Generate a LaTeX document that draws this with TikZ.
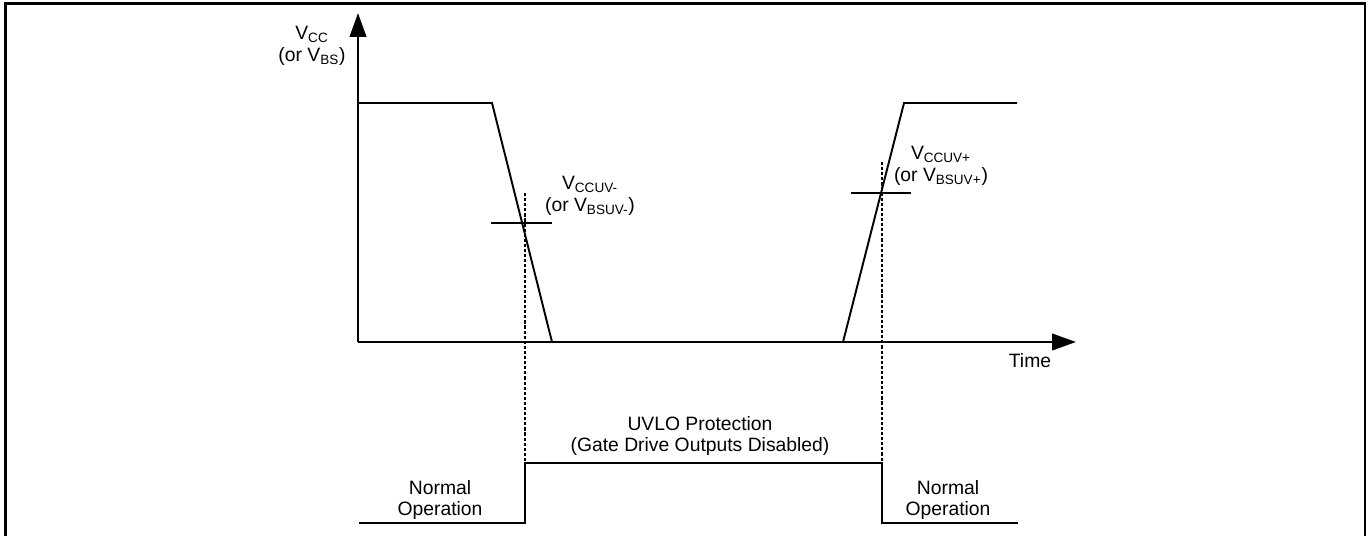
\documentclass[tikz,border=0pt]{standalone}
\usepackage{fontspec}
\setmainfont{Liberation Sans}
\usetikzlibrary{arrows.meta}
\tikzset{
  wave/.style={line width=1.1pt},
  axis/.style={line width=1.4pt,-{Triangle[length=0.48cm,width=0.33cm]}},
  guide/.style={line width=1.1pt,dash pattern=on 1.8pt off 1.1pt},
  lbl/.style={align=center,font=\fontsize{11}{12.5}\selectfont,inner sep=0pt}
}
\begin{document}
\begin{tikzpicture}[x=0.02cm,y=-0.02cm]
      \useasboundingbox (0,0) rectangle (1371,536);
      \draw[line width=1.4pt] (5.3,536)--(5.3,3.3)--(1365,3.3)--(1365,536);
      % axes
      \draw[axis] (358,342)--(358,13);
      \draw[axis] (358,342)--(1076,342);
      \node[lbl] (vcc) at (312,46) {V\textsubscript{CC}\\(or V\textsubscript{BS})};
      \node[lbl] (time) at (1030,361) {Time};
      % supply waveform
      \draw[wave] (358,103)--(492,103)--(552,342);
      \draw[wave] (843,342)--(904,103)--(1017,103);
      \draw[wave] (491,223)--(552,223);
      \draw[wave] (851,193)--(911,193);
      \node[lbl] (uvm) at (590,196) {V\textsubscript{CCUV-}\\(or V\textsubscript{BSUV-})};
      \node[lbl] (uvp) at (941,166) {V\textsubscript{CCUV+}\\(or V\textsubscript{BSUV+})};
      % thresholds
      \draw[guide] (525,193)--(525,463);
      \draw[guide] (882,162)--(882,463);
      % state
      \draw[wave] (359,523)--(525,523)--(525,463)--(882,463)--(882,523)--(1018,523);
      \node[lbl] (uvlo) at (700,436) {UVLO Protection\\(Gate Drive Outputs Disabled)};
      \node[lbl] (norma) at (440,500) {Normal\\Operation};
      \node[lbl] (normb) at (948,500) {Normal\\Operation};
    \end{tikzpicture}
\end{document}
